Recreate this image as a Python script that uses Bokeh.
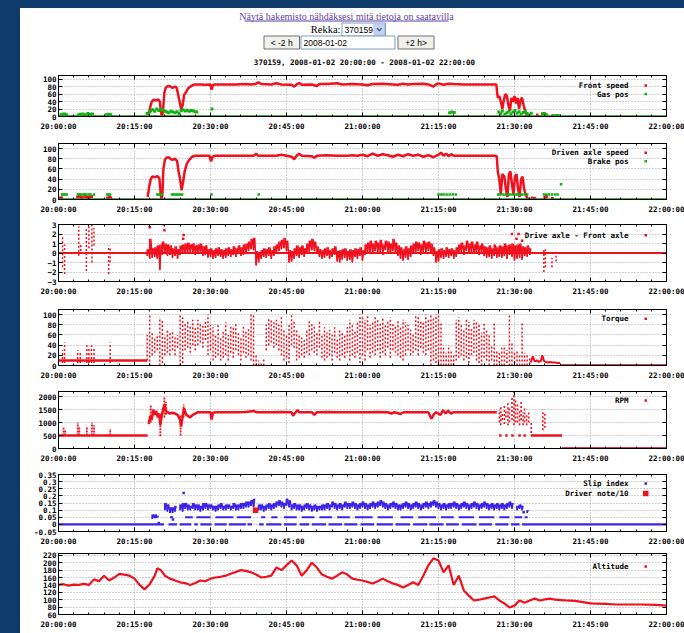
import numpy as np
from bokeh.plotting import figure
from bokeh.layouts import column
from bokeh.models import Range1d, FixedTicker, LinearAxis, Grid
from bokeh.core.properties import value
from bokeh.embed import file_html
from bokeh.resources import INLINE

# ---------------------------------------------------------------------------
# Log of truck 370159, 2008-01-02 20:00-22:00.  Time is minutes after 20:00.
# ---------------------------------------------------------------------------
TIME_TICKS = [0, 15, 30, 45, 60, 75, 90, 105, 120]
TIME_LABELS = ["20:00:00", "20:15:00", "20:30:00", "20:45:00", "21:00:00",
               "21:15:00", "21:30:00", "21:45:00", "22:00:00"]
TIME_MINOR = [m for m in range(0, 121, 3) if m % 15]

# sampling instants of the dense half-minute summaries (17:30 .. 93:00)
band_t = 17.5 + 0.5 * np.arange(152)

# --- speeds (km/h) ----------------------------------------------------------
front_speed = [
    (17.8, 5), (18.1, 25), (18.4, 40), (18.8, 45), (19.3, 43), (19.7, 46), (20.0, 40),
    (20.2, 15), (20.4, 0), (20.6, 10), (20.9, 65), (21.2, 78), (21.6, 82), (22.0, 81),
    (22.5, 77), (23.0, 80), (23.3, 78), (23.6, 60), (23.9, 40), (24.2, 20), (24.5, 30),
    (24.8, 58), (25.2, 66), (25.6, 76), (26.1, 81), (26.6, 85), (27.2, 86), (28, 86),
    (29, 85), (30, 86), (30.2, 72), (30.5, 85), (31, 86), (33, 86), (35, 86), (37, 87),
    (38, 86), (39, 88), (39.5, 92), (40, 87), (42, 86), (43, 89), (44, 86), (46, 85),
    (46.5, 80), (47, 86), (47.5, 90), (48, 85), (50, 86), (51, 82), (51.5, 87), (53, 87),
    (55, 89), (56, 86), (58, 87), (60, 86), (61, 84), (62, 87), (64, 88), (66, 86),
    (67, 85), (68, 88), (69, 86), (70, 87), (72, 88), (73, 86), (74, 80), (74.5, 86),
    (75, 89), (76, 85), (77, 88), (78, 87), (80, 86), (82, 86), (84, 86), (86.4, 86),
    (86.7, 50), (87.0, 55), (87.3, 40), (87.6, 20), (87.9, 45), (88.2, 60), (88.5, 55),
    (88.8, 30), (89.1, 15), (89.4, 50), (89.7, 40), (90.0, 55), (90.3, 35), (90.6, 50),
    (90.9, 20), (91.2, 45), (91.5, 50), (91.8, 30), (92.1, 15), (92.4, 5), (92.7, 2),
    (93.0, 0),
]
front_dots = [(94.5, 5), (95.5, 8), (96.0, 6), (97.5, 3), (98.5, 2)]

driven_speed = [
    (17.6, 5), (17.9, 25), (18.2, 40), (18.5, 45), (19.0, 44), (19.5, 46), (19.9, 42),
    (20.1, 20), (20.3, 0), (20.5, 10), (20.7, 60), (21.0, 78), (21.3, 82), (21.7, 83),
    (22.1, 80), (22.5, 78), (23.0, 80), (23.4, 76), (23.7, 55), (24.0, 40), (24.3, 18),
    (24.6, 35), (24.9, 55), (25.3, 70), (25.8, 78), (26.4, 84), (27.0, 86), (28, 86),
    (29, 86), (29.8, 86), (30.1, 75), (30.4, 84), (31, 86), (33, 86), (35, 86), (37, 86),
    (38.5, 86), (39.0, 90), (39.4, 86), (41, 86), (43, 86), (44, 88), (45, 86), (46, 84),
    (46.5, 79), (47, 86), (47.5, 90), (48, 86), (50, 85), (50.5, 82), (51, 86), (53, 87),
    (55, 86), (57, 86), (58, 87), (59, 86), (60, 88), (61, 85), (62, 90), (63, 86),
    (64, 89), (65, 87), (66, 84), (67, 88), (68, 85), (69, 89), (70, 86), (71, 88),
    (72, 84), (73, 87), (74, 83), (75, 88), (75.5, 92), (76, 86), (76.5, 90), (77, 85),
    (77.5, 89), (78, 86), (80, 86), (82, 86), (84, 86), (86, 86), (86.5, 85), (86.7, 55),
    (87.0, 40), (87.3, 10), (87.6, 50), (88.0, 45), (88.3, 20), (88.6, 5), (88.9, 50),
    (89.2, 55), (89.5, 30), (89.8, 10), (90.1, 45), (90.4, 50), (90.7, 20), (91.0, 5),
    (91.3, 40), (91.6, 45), (91.9, 20), (92.2, 10), (92.5, 3), (93.0, 0),
]
driven_dots = [(0.4, 3), (0.6, 3), (3.8, 5), (4.2, 6), (4.6, 4), (5.2, 6), (5.6, 5),
               (6.0, 4), (6.5, 6), (9.7, 3), (10.1, 4), (10.3, 3), (93.5, 3), (94.0, 2),
               (96.0, 4), (96.3, 6), (97.5, 2)]

# --- pedals (%) -----------------------------------------------------------------
gas_rest = [(0, 0), (120, 0)]
gas_pos = [
    (0.5, 5), (0.8, 6), (1.2, 7), (1.6, 5), (3.9, 4), (4.3, 6), (4.8, 7), (5.3, 5),
    (5.8, 8), (6.2, 6), (6.7, 7), (9.4, 5), (9.9, 6), (10.3, 5),
    (17.5, 8), (17.9, 12), (18.2, 15), (18.6, 18), (19.0, 14), (19.4, 20), (19.8, 16),
    (20.2, 19), (20.6, 18), (21.0, 14), (21.4, 12), (21.8, 10), (22.2, 14), (22.6, 12),
    (23.0, 10), (23.4, 13), (23.8, 8), (24.2, 16), (24.6, 18), (25.0, 15), (25.4, 17),
    (25.8, 14), (26.2, 16), (26.6, 15), (27.0, 13), (27.3, 12), (30.3, 20),
    (77.2, 10), (77.6, 12), (78.1, 11), (86.9, 12), (87.2, 8), (87.6, 15), (88.1, 6),
    (88.5, 10), (88.9, 14), (89.3, 7), (89.7, 12), (90.1, 16), (90.5, 9), (90.9, 13),
    (91.3, 6), (91.7, 11), (92.1, 14), (92.5, 8), (92.9, 4), (93.3, 9), (95.6, 6),
    (95.9, 8), (96.3, 5), (97.8, 2), (98.3, 3), (98.8, 2),
]
brake_rest = [(0, 0), (120, 0)]
brake_pos = [
    (0.7, 10), (1.0, 10), (1.3, 10), (1.6, 10), (3.8, 10), (4.1, 10), (4.4, 10), (4.9, 10),
    (5.2, 10), (5.5, 10), (6.0, 10), (6.3, 10), (7.0, 10), (9.6, 10), (9.9, 10), (10.2, 10),
    (19.5, 10), (19.8, 10), (20.1, 10), (20.4, 10), (22.4, 10), (22.8, 10), (23.2, 10),
    (23.6, 10), (24.0, 10), (24.4, 10), (30.2, 10), (39.5, 10), (75.0, 10), (75.5, 10),
    (76.0, 10), (76.6, 10), (77.2, 10), (77.8, 10), (78.4, 10), (86.8, 10), (87.2, 10),
    (87.8, 10), (88.3, 10), (88.8, 10), (89.2, 10), (89.7, 10), (90.2, 10), (90.6, 10),
    (91.0, 10), (91.5, 10), (92.0, 10), (92.5, 10), (95.8, 10), (96.3, 10), (96.8, 10),
    (97.4, 10), (98.0, 10), (98.5, 10), (99.2, 30),
]

# --- drive axle minus front axle (km/h) -------------------------------------------
diff_rest = [(0, 0), (120, 0)]
diff_lo = [
    -0.3, -0.6, -0.5, -0.4, -0.6, -1.8, -0.2, 0.0, -0.3, -0.2,
    -0.5, -0.3, -0.6, -0.2, 0.0, -0.1, 0.0, 0.1, 0.0, -0.2,
    -0.1, 0.0, -0.3, -0.2, -0.5, -0.4, -0.6, -0.5, -0.3, -0.4,
    -0.6, -0.5, -0.3, -0.4, -0.2, -0.4, -0.1, -0.3, -0.2, 0.0,
    0.2, 0.4, 0.3, -1.3, -1.0, -0.6, -0.4, -0.5, -0.3, -0.6,
    -0.3, 0.0, 0.2, 0.4, 0.5, 0.2, -1.0, -0.9, -0.6, -0.3,
    -0.5, -0.2, -0.4, 0.0, 0.1, 0.3, 0.2, -0.1, -0.4, -0.6,
    -0.5, -0.3, -0.6, -0.4, -0.2, -0.9, -1.0, -0.7, -0.5, -0.8,
    -0.7, -1.0, -0.4, -0.6, -0.3, -0.8, -0.2, 0.0, 0.1, -0.1,
    0.2, 0.0, 0.1, -0.2, 0.3, 0.1, -0.1, 0.2, 0.0, -0.3,
    -0.6, -0.8, -0.5, -0.7, -0.4, -0.1, 0.0, 0.2, -0.2, 0.1,
    0.0, 0.2, -0.1, -0.3, -1.0, -0.9, -0.5, -0.6, -0.4, -0.5,
    -0.3, -0.6, -0.4, 0.0, 0.1, -0.2, 0.2, 0.0, 0.1, -0.1,
    0.0, -0.2, 0.1, -0.3, -0.5, -0.4, -0.6, -0.3, -0.5, -0.4,
    -0.5, -0.3, -0.6, -0.2, -0.4, -0.8, -0.6, -0.5, -0.7, -0.3,
    -0.4, -0.2,
]
diff_hi = [
    0.4, 1.5, 0.5, 0.6, 0.8, 0.9, 1.2, 1.0, 0.9, 0.8,
    0.5, 0.7, 0.4, 0.8, 0.9, 1.0, 1.1, 0.9, 1.0, 0.8,
    0.9, 1.0, 0.7, 0.8, 0.4, 0.5, 0.3, 0.5, 0.6, 0.4,
    0.3, 0.5, 0.6, 0.4, 0.7, 0.5, 0.8, 0.6, 0.9, 1.0,
    1.2, 1.5, 1.6, 0.2, 0.1, 0.3, 0.5, 0.4, 0.6, 0.3,
    0.7, 0.9, 1.2, 1.4, 1.6, 1.3, 0.3, 0.2, 0.5, 0.8,
    0.6, 0.8, 0.5, 1.0, 1.3, 1.5, 1.2, 0.7, 0.4, 0.3,
    0.5, 0.6, 0.3, 0.5, 0.7, 0.2, 0.3, 0.4, 0.5, 0.2,
    0.4, 0.3, 0.5, 0.4, 0.6, 0.3, 0.9, 1.1, 1.3, 1.0,
    1.3, 1.1, 1.4, 0.9, 1.3, 1.2, 1.0, 1.5, 1.1, 0.8,
    0.6, 0.4, 0.7, 0.5, 0.8, 1.0, 1.2, 1.1, 0.9, 1.3,
    1.1, 1.2, 1.0, 0.6, 0.2, 0.4, 0.5, 0.3, 0.6, 0.4,
    0.5, 0.3, 0.6, 0.9, 1.1, 0.8, 1.3, 1.0, 1.2, 0.9,
    1.2, 0.8, 1.0, 0.7, 0.6, 0.8, 0.5, 0.9, 0.6, 0.8,
    0.7, 1.0, 0.8, 0.9, 1.0, 0.8, 0.9, 1.0, 0.7, 0.6,
    0.8, 0.5,
]
diff_dots = [(18.0, 2.7), (20.8, 3.0), (20.9, 2.4), (24.6, 1.5), (24.7, 1.9), (89.5, 2.0),
             (89.8, 3.3), (90.4, 1.5), (90.8, 2.0), (91.5, 1.3)]
diff_streaks = [  # (time, low, high) while manoeuvring in the yard
    (0.8, -1.5, 1.8), (1.2, -2.2, 0.9), (4.0, -0.3, 2.8), (4.4, 0.2, 1.0),
    (5.5, -1.9, 2.5), (6.0, 0.5, 2.9), (6.6, -1.0, 3.0), (7.0, 0.8, 2.6),
    (9.9, -2.2, 0.8), (10.2, -1.0, 0.5), (95.8, -2.0, 0.5), (96.1, -1.5, 0.4),
    (97.4, -1.5, -0.5), (98.2, -0.9, -0.3),
]

# --- torque (%) -----------------------------------------------------------------
torque_idle = [(0, 10), (17.5, 10)]
torque_parked = [(99.2, 0), (120, 0)]
torque_lo = [
    10, 0, 20, 25, 30, 0, 5, 20, 25, 20,
    30, 20, 35, 0, 5, 30, 35, 25, 40, 30,
    40, 45, 35, 50, 20, 30, 10, 15, 20, 10,
    15, 20, 10, 25, 15, 30, 20, 10, 25, 15,
    20, 10, 0, 0, 0, 0, 0, 30, 40, 45,
    35, 40, 30, 20, 10, 15, 5, 40, 35, 10,
    15, 20, 15, 25, 20, 30, 25, 20, 35, 15,
    10, 15, 20, 10, 25, 15, 10, 20, 15, 25,
    10, 20, 15, 25, 5, 20, 10, 30, 15, 25,
    20, 30, 15, 25, 20, 35, 15, 30, 25, 20,
    15, 10, 20, 30, 20, 25, 30, 20, 35, 25,
    20, 30, 0, 10, 5, 0, 0, 0, 0, 0,
    0, 0, 10, 15, 20, 10, 15, 5, 20, 25,
    10, 5, 0, 15, 10, 0, 10, 0, 0, 5,
    0, 0, 5, 0, 0, 5, 0, 0, 0, 0,
    0, 2,
]
torque_hi = [
    60, 100, 65, 55, 60, 95, 90, 60, 70, 65,
    70, 55, 60, 100, 95, 85, 90, 80, 90, 75,
    90, 85, 80, 90, 100, 80, 75, 60, 80, 55,
    70, 85, 60, 80, 75, 85, 65, 55, 80, 70,
    75, 100, 100, 20, 10, 5, 15, 80, 95, 90,
    85, 90, 80, 95, 70, 60, 80, 100, 90, 70,
    60, 55, 50, 70, 90, 85, 80, 65, 90, 60,
    75, 65, 70, 60, 75, 55, 70, 65, 60, 75,
    90, 80, 70, 85, 100, 95, 90, 100, 80, 85,
    95, 90, 85, 95, 80, 90, 95, 85, 80, 90,
    75, 90, 85, 80, 70, 60, 100, 95, 90, 85,
    100, 90, 100, 95, 100, 100, 85, 35, 25, 40,
    30, 20, 90, 95, 80, 70, 90, 85, 75, 90,
    85, 80, 65, 85, 70, 60, 40, 85, 30, 25,
    35, 40, 30, 100, 45, 25, 30, 20, 85, 25,
    20, 15,
]
torque_spikes = [(0.8, 5, 30), (1.2, 5, 45), (3.8, 5, 30), (4.3, 5, 25), (5.6, 5, 40),
                 (6.0, 5, 35), (6.5, 5, 40), (7.0, 5, 35), (10.2, 5, 45)]
torque_tail = [(93.2, 6), (93.6, 18), (94.0, 8), (94.4, 10), (94.8, 7), (95.2, 9),
               (95.5, 20), (95.8, 9), (96.2, 7), (96.6, 6), (97.0, 7), (97.5, 6),
               (98.0, 6), (98.5, 5), (99.0, 5)]

# --- engine speed (rpm) -------------------------------------------------------------
rpm_idle = [(0, 500), (17.6, 500)]
rpm_spikes = [(1.0, 500, 800), (1.3, 500, 700), (3.8, 500, 1000), (4.1, 500, 850),
              (5.6, 500, 850), (6.6, 500, 1000), (7.0, 500, 900), (10.2, 500, 750),
              (18.2, 1000, 1700), (20.1, 470, 1300), (20.9, 1200, 2000), (21.2, 1300, 1800),
              (24.1, 500, 1300), (24.7, 1200, 1700)]
rpm_drive = [
    (17.8, 950), (18.1, 1250), (18.4, 1100), (18.7, 1500), (19.0, 1300), (19.3, 1450),
    (19.6, 1200), (19.9, 1350), (20.1, 900), (20.4, 1300), (20.7, 1550), (20.9, 1700),
    (21.2, 1450), (21.5, 1400), (22.0, 1350), (22.5, 1380), (23.0, 1350), (23.5, 1300),
    (24.0, 1100), (24.2, 850), (24.5, 1250), (24.8, 1550), (25.2, 1300), (25.6, 1250),
    (26.0, 1200), (26.5, 1300), (27.0, 1350), (27.5, 1400), (28, 1400), (29, 1400),
    (30, 1400), (30.2, 1120), (30.5, 1380), (31, 1400), (33, 1400), (35, 1400),
    (37, 1410), (38.5, 1450), (39, 1400), (40, 1400), (42, 1400), (44, 1410), (46, 1400),
    (46.3, 1260), (46.6, 1350), (47.2, 1480), (47.5, 1400), (48, 1400), (50, 1400),
    (50.5, 1300), (51, 1400), (53, 1410), (55, 1400), (57, 1400), (59, 1400), (61, 1400),
    (63, 1410), (65, 1400), (65.7, 1350), (66.3, 1400), (67.5, 1330), (68.1, 1400),
    (69, 1400), (71, 1400), (73, 1400), (73.6, 1150), (74, 1300), (74.5, 1400),
    (75.4, 1300), (75.9, 1480), (76.4, 1350), (76.9, 1460), (77.4, 1350), (78, 1400),
    (80, 1400), (82, 1400), (84, 1400), (86.5, 1400),
]
rpm_burst = [(87.0, 1000, 1500), (87.3, 900, 1600), (87.6, 1100, 1400), (88.0, 950, 1700),
             (88.3, 1200, 1500), (88.7, 900, 1800), (89.0, 1000, 1600), (89.5, 1100, 2000),
             (89.9, 900, 2200), (90.2, 1000, 1900), (90.6, 1000, 1700), (91.0, 900, 1500),
             (91.3, 1100, 1800), (91.7, 900, 1400), (92.0, 1000, 1600), (92.4, 900, 1300),
             (92.8, 1000, 1450), (93.3, 600, 1000), (95.6, 700, 1500), (96.0, 800, 1400)]
rpm_idle_dots = [(87.2, 500), (88.4, 500), (89.6, 500), (91.0, 500), (92.0, 500)]
rpm_low = [(93.2, 500), (99.4, 500)]
rpm_parked = [(99.3, 0), (120, 0)]

# --- slip index --------------------------------------------------------------------------
slip_runs = [  # (start, end, value) of flat stretches
    (0, 20.8, 0), (21.7, 23.4, 0), (23.9, 26.2, 0), (26.8, 27.5, 0), (28.0, 30.2, 0),
    (30.8, 33.2, 0), (33.6, 37.0, 0), (37.3, 38.2, 0), (39.6, 40.5, 0), (41.0, 44.0, 0),
    (44.5, 47.0, 0), (47.6, 49.5, 0), (50.0, 52.8, 0), (53.3, 56.0, 0), (56.4, 59.0, 0),
    (59.6, 62.3, 0), (62.8, 66.0, 0), (66.5, 69.4, 0), (70.0, 72.8, 0), (73.2, 76.0, 0),
    (76.5, 79.0, 0), (79.6, 82.5, 0), (83.0, 85.6, 0), (86.2, 88.8, 0), (89.3, 91.0, 0),
    (91.5, 120, 0),
    (18.5, 19.5, 0.05), (22.0, 22.6, 0.05), (25.0, 26.5, 0.05), (27.2, 30.0, 0.05),
    (31.0, 34.5, 0.05), (35.2, 38.0, 0.05), (40.0, 40.8, 0.05), (42.0, 43.2, 0.05),
    (44.5, 47.0, 0.05), (48.0, 50.5, 0.05), (51.5, 54.0, 0.05), (55.0, 57.5, 0.05),
    (58.5, 62.0, 0.05), (63.0, 66.0, 0.05), (67.5, 70.0, 0.05), (71.0, 74.5, 0.05),
    (75.5, 78.0, 0.05), (79.0, 82.0, 0.05), (83.0, 86.0, 0.05), (87.0, 89.0, 0.05),
    (90.0, 91.5, 0.05), (92.0, 92.6, 0.05),
]
slip_lo = [
    None, None, 0.04, 0.05, 0.05, None, None, 0.10, 0.09, 0.08,
    0.08, 0.09, None, 0.10, 0.09, 0.11, 0.10, 0.10, 0.11, 0.10,
    0.10, 0.09, 0.10, 0.11, 0.10, 0.11, 0.10, 0.09, 0.10, 0.11,
    0.10, 0.10, 0.11, 0.10, 0.11, 0.10, 0.10, 0.11, 0.11, 0.12,
    0.12, 0.13, 0.12, None, 0.10, 0.10, 0.09, 0.10, 0.11, 0.10,
    0.11, 0.12, 0.13, 0.12, 0.11, 0.13, 0.12, 0.10, 0.11, 0.10,
    0.10, 0.09, 0.10, 0.11, 0.10, 0.09, 0.10, 0.09, 0.10, 0.10,
    0.10, 0.11, 0.10, 0.12, 0.11, 0.10, 0.11, 0.10, 0.12, 0.11,
    0.11, 0.12, 0.11, 0.10, 0.11, 0.12, 0.11, 0.10, 0.11, 0.12,
    0.11, 0.12, 0.13, 0.12, 0.11, 0.10, 0.11, 0.12, 0.11, 0.10,
    0.10, 0.11, 0.12, 0.11, 0.10, 0.11, 0.12, 0.11, 0.10, 0.11,
    0.12, 0.11, 0.12, 0.13, 0.12, 0.11, 0.10, 0.11, 0.10, 0.11,
    0.11, 0.12, 0.11, 0.10, 0.11, 0.12, 0.11, 0.10, 0.11, 0.12,
    0.11, 0.10, 0.11, 0.12, 0.11, 0.10, 0.11, 0.10, 0.11, 0.10,
    0.11, 0.10, 0.11, 0.12, 0.11, None, 0.10, 0.11, 0.10, None,
    0.08, None,
]
slip_hi = [
    None, None, 0.07, 0.07, 0.06, None, None, 0.15, 0.14, 0.12,
    0.12, 0.13, None, 0.14, 0.15, 0.15, 0.14, 0.13, 0.15, 0.14,
    0.14, 0.13, 0.15, 0.15, 0.14, 0.14, 0.13, 0.13, 0.14, 0.15,
    0.13, 0.14, 0.14, 0.13, 0.15, 0.14, 0.14, 0.15, 0.15, 0.16,
    0.16, 0.17, 0.18, None, 0.14, 0.14, 0.13, 0.14, 0.15, 0.14,
    0.15, 0.16, 0.17, 0.16, 0.15, 0.18, 0.17, 0.14, 0.15, 0.14,
    0.14, 0.13, 0.14, 0.15, 0.14, 0.13, 0.14, 0.13, 0.13, 0.14,
    0.14, 0.15, 0.14, 0.16, 0.15, 0.14, 0.15, 0.14, 0.16, 0.15,
    0.15, 0.16, 0.15, 0.14, 0.15, 0.16, 0.15, 0.14, 0.15, 0.16,
    0.15, 0.16, 0.17, 0.16, 0.15, 0.14, 0.15, 0.16, 0.15, 0.14,
    0.14, 0.15, 0.16, 0.15, 0.14, 0.15, 0.16, 0.15, 0.14, 0.15,
    0.16, 0.15, 0.16, 0.17, 0.16, 0.15, 0.14, 0.15, 0.14, 0.15,
    0.15, 0.16, 0.15, 0.14, 0.15, 0.16, 0.15, 0.14, 0.15, 0.16,
    0.15, 0.14, 0.15, 0.16, 0.15, 0.14, 0.15, 0.14, 0.15, 0.14,
    0.15, 0.14, 0.15, 0.16, 0.15, None, 0.13, 0.14, 0.13, None,
    0.10, None,
]
slip_dots = [(24.7, 0.22), (19.8, 0.01), (22.6, 0.035), (91.8, 0.085)]
driver_note = [(38.9, 0.1)]

# --- altitude (m) -------------------------------------------------------------------------
altitude = [
    (0, 140), (1, 142), (2, 138), (3, 141), (4, 140), (5, 143), (6, 140), (7, 155),
    (8, 150), (9, 165), (10, 152), (11, 160), (12, 170), (13, 168), (14, 165), (15, 157),
    (16, 140), (17, 128), (17.5, 135), (18, 142), (19, 165), (19.5, 185), (20.2, 180),
    (21, 165), (22, 157), (23, 152), (24, 147), (25, 145), (26, 140), (27, 145), (28, 152),
    (29, 150), (30, 157), (31, 160), (32, 162), (33, 165), (34, 170), (35, 175), (36, 180),
    (37, 178), (38, 174), (39, 168), (40, 160), (41, 162), (42, 165), (43, 187), (44, 180),
    (45, 193), (46, 206), (47, 193), (48, 165), (49, 180), (50, 200), (51, 187), (52, 168),
    (53, 162), (54, 157), (55, 165), (56, 174), (57, 168), (58, 157), (59, 154), (60, 152),
    (61, 148), (62, 144), (63, 150), (64, 157), (65, 150), (66, 144), (67, 140), (68, 133),
    (69, 140), (70, 147), (71, 140), (72, 165), (73, 193), (74, 212), (75, 206), (76, 174),
    (77, 193), (78, 140), (79, 165), (80, 125), (81, 111), (82, 98), (83, 100), (84, 103),
    (85, 106), (86, 109), (87, 98), (88, 90), (89, 79), (90, 84), (91, 98), (92, 92),
    (93, 98), (94, 103), (95, 98), (96, 101), (97, 103), (98, 100), (100, 98), (102, 97),
    (105, 90), (108, 89), (110, 87), (115, 87), (118, 86), (120, 84),
]

# ---------------------------------------------------------------------------
# styling
# ---------------------------------------------------------------------------
NAVY = "#0f3b6b"
RED = "#f0101e"
DARK_RED = "#b0001c"
GREEN = "#12b012"
DARK_GREEN = "#1a861a"
BLUE = "#3b22e8"
GRID = "#a0a0a0"
MONO = "DejaVu Sans Mono"
LEG_TEXT_X = 112.5
LEG_MARK_X = 115.9
BORDER_L, BORDER_R, PAGE_PAD = 38, 18, 20
WHITE_BOX = {"background-color": "white"}


def cols(seq):
    return [r[0] for r in seq], [r[1] for r in seq]


def style_axis(ax, labelled, standoff):
    ax.axis_line_color = "black"
    ax.major_tick_line_color = "black"
    ax.minor_tick_line_color = "black"
    ax.major_tick_in = 4
    ax.major_tick_out = 0
    ax.minor_tick_in = 2
    ax.minor_tick_out = 0
    ax.major_label_text_font = MONO
    ax.major_label_text_font_style = "bold"
    if labelled:
        ax.major_label_text_color = "black"
        ax.major_label_text_font_size = "7.5px"
        ax.major_label_standoff = standoff
    else:
        # mirrored tick marks only
        ax.major_label_text_color = None
        ax.major_label_text_font_size = "1px"
        ax.major_label_standoff = 0


def make_panel(y_lo, y_hi, y_ticks, top, frame_h, bottom, y_labels=None):
    p = figure(width=684 - PAGE_PAD, height=top + frame_h + bottom,
               x_range=Range1d(0, 120), y_range=Range1d(y_lo, y_hi),
               x_axis_type=None, y_axis_type=None,
               output_backend="svg", toolbar_location=None,
               min_border_left=BORDER_L, min_border_right=BORDER_R,
               min_border_top=top, min_border_bottom=bottom,
               margin=(0, 0, 0, PAGE_PAD), styles=WHITE_BOX)
    p.outline_line_color = "black"
    p.background_fill_color = "white"
    p.border_fill_color = "white"
    xt = FixedTicker(ticks=TIME_TICKS, minor_ticks=TIME_MINOR)
    yt = FixedTicker(ticks=y_ticks, minor_ticks=[])
    p.add_layout(Grid(dimension=0, ticker=xt, grid_line_color=GRID, grid_line_dash="1 2"))
    p.add_layout(Grid(dimension=1, ticker=yt, grid_line_color=GRID, grid_line_dash="1 2"))
    for side in ("below", "above"):
        ax = LinearAxis(ticker=xt)
        style_axis(ax, side == "below", 5)
        if side == "below":
            ax.major_label_overrides = dict(zip(TIME_TICKS, TIME_LABELS))
        p.add_layout(ax, side)
    for side in ("left", "right"):
        ax = LinearAxis(ticker=yt)
        style_axis(ax, side == "left", 2)
        if side == "left" and y_labels:
            ax.major_label_overrides = y_labels
        p.add_layout(ax, side)
    p.y_range.tags = [frame_h]
    return p


def legend(p, rows):
    y_lo, y_hi = p.y_range.start, p.y_range.end
    frame_h = p.y_range.tags[0]
    for label, color, size, dy in rows:
        y = y_hi - dy / frame_h * (y_hi - y_lo)
        p.text(x=[LEG_TEXT_X], y=[y], text=[label], text_font=value(MONO),
               text_font_style="bold", text_font_size="7.5px", text_color="black",
               text_align="right", text_baseline="middle")
        p.scatter(x=[LEG_MARK_X], y=[y], marker="square", size=size,
                  fill_color=color, line_color=None)


def segments(p, t, lo, hi, **kw):
    keep = [i for i in range(len(t)) if lo[i] is not None and hi[i] is not None]
    p.segment(x0=[t[i] for i in keep], x1=[t[i] for i in keep],
              y0=[lo[i] for i in keep], y1=[hi[i] for i in keep], **kw)


def zigzag(t, lo, hi):
    """Alternate low/high readings of each half-minute so the band reads as noise."""
    xs, ys = [], []
    for i in range(len(t)):
        if lo[i] is None:
            xs.append(np.nan)
            ys.append(np.nan)
            continue
        xs += [t[i], t[i] + 0.25]
        ys += [lo[i], hi[i]]
    return xs, ys


assert len(diff_lo) == len(diff_hi) == len(band_t)
assert len(torque_lo) == len(torque_hi) == len(band_t)
assert len(slip_lo) == len(slip_hi) == len(band_t)
bt = list(band_t)

# ---------------------------------------------------------------------------
# page header (form controls and title); x/y in page pixels
# ---------------------------------------------------------------------------
HDR_TOP, HDR_BOTTOM = 8, 68
hdr = figure(width=684 - PAGE_PAD, height=HDR_BOTTOM - HDR_TOP,
             x_range=Range1d(PAGE_PAD + BORDER_L, 684 - BORDER_R),
             y_range=Range1d(HDR_BOTTOM, HDR_TOP),
             x_axis_type=None, y_axis_type=None, output_backend="svg",
             toolbar_location=None, min_border_left=BORDER_L, min_border_right=BORDER_R,
             min_border_top=0, min_border_bottom=0, margin=(HDR_TOP, 0, 0, PAGE_PAD),
             styles=WHITE_BOX)
hdr.outline_line_color = None
hdr.background_fill_color = "white"
hdr.border_fill_color = "white"
LINK = "#5f3fa8"
hdr.text(x=[346], y=[16], text=["Näytä hakemisto nähdäksesi mitä tietoja on saatavilla"],
         text_font=value("Liberation Serif"), text_font_size="10px", text_color=LINK,
         text_align="center", text_baseline="middle")
hdr.segment(x0=[244], x1=[448], y0=[20.5], y1=[20.5], line_color=LINK, line_width=1)
hdr.text(x=[340], y=[29], text=["Rekka:"], text_font=value("Liberation Serif"),
         text_font_size="10.5px", text_color="black", text_align="right",
         text_baseline="middle")
# select box
hdr.quad(left=[341.5], right=[385], top=[22.5], bottom=[35.5], fill_color="white",
         line_color="#7f9db9")
hdr.quad(left=[373.5], right=[384], top=[23.5], bottom=[34.5], fill_color="#c4d4f8",
         line_color="#b0c4f2")
hdr.line(x=[376.5, 378.8, 381.1], y=[27.6, 30.2, 27.6], line_color="#4d6185", line_width=1.5)
hdr.text(x=[344], y=[29.2], text=["370159"], text_font=value("Liberation Sans"),
         text_font_size="8.5px", text_color="black", text_align="left",
         text_baseline="middle")
# buttons and date box
hdr.quad(left=[263.5, 397.5], right=[299, 433.5], top=[35.5, 35.5], bottom=[48.5, 48.5],
         fill_color="#f1f1ec", line_color="#707070")
hdr.quad(left=[300.5], right=[394.5], top=[35.5], bottom=[48.5], fill_color="white",
         line_color="#7f9db9")
hdr.text(x=[281.2, 415.5], y=[42.2, 42.2], text=["< -2 h", "+2 h>"],
         text_font=value("Liberation Sans"), text_font_size="8.5px", text_color="black",
         text_align="center", text_baseline="middle")
hdr.text(x=[303], y=[42.2], text=["2008-01-02"], text_font=value("Liberation Sans"),
         text_font_size="8.5px", text_color="black", text_align="left",
         text_baseline="middle")
hdr.text(x=[364], y=[62.3], text=["370159, 2008-01-02 20:00:00 - 2008-01-02 22:00:00"],
         text_font=value(MONO), text_font_style="bold", text_font_size="7.5px",
         text_color="black", text_align="center", text_baseline="middle")

# ---------------------------------------------------------------------------
# panels
# ---------------------------------------------------------------------------
pct_ticks = [0, 20, 40, 60, 80, 100]

# 1: front speed & gas pedal
p1 = make_panel(0, 110, pct_ticks, 7, 41, 18)
x, y = cols(front_speed)
p1.line(x, y, line_color=RED, line_width=2.5)
x, y = cols(front_dots)
p1.scatter(x, y, marker="square", size=2.5, fill_color=RED, line_color=None)
x, y = cols(gas_rest)
p1.line(x, y, line_color=DARK_GREEN, line_width=2.5)
x, y = cols(gas_pos)
p1.scatter(x, y, marker="square", size=3, fill_color=GREEN, line_color=None)
legend(p1, [("Front speed", RED, 2.5, 10), ("Gas pos", GREEN, 2.5, 18.5)])

# 2: driven axle speed & brake pedal
p2 = make_panel(0, 110, pct_ticks, 9, 56, 19)
x, y = cols(driven_speed)
p2.line(x, y, line_color=RED, line_width=2.5)
x, y = cols(driven_dots)
p2.scatter(x, y, marker="square", size=3, fill_color=RED, line_color=None)
x, y = cols(brake_rest)
p2.line(x, y, line_color=DARK_GREEN, line_width=2.5)
x, y = cols(brake_pos)
p2.scatter(x, y, marker="square", size=2.5, fill_color=GREEN, line_color=None)
legend(p2, [("Driven axle speed", RED, 2.5, 9.3), ("Brake pos", GREEN, 2.5, 17.7)])

# 3: wheel speed difference
p3 = make_panel(-3, 3, [-3, -2, -1, 0, 1, 2, 3], 6, 58, 16)
x, y = cols(diff_rest)
p3.line(x, y, line_color=RED, line_width=2)
segments(p3, bt, diff_lo, diff_hi, line_color=RED, line_width=1.5)
x, y = zigzag(bt, diff_lo, diff_hi)
p3.line(x, y, line_color=RED, line_width=1.3)
segments(p3, [s[0] for s in diff_streaks], [s[1] for s in diff_streaks],
         [s[2] for s in diff_streaks], line_color=RED, line_width=1.5, line_dash="2 2")
x, y = cols(diff_dots)
p3.scatter(x, y, marker="square", size=2.5, fill_color=RED, line_color=None)
legend(p3, [("Drive axle - Front axle", RED, 2.5, 11)])

# 4: torque
p4 = make_panel(0, 110, pct_ticks, 11, 56, 18)
x, y = cols(torque_idle)
p4.line(x, y, line_color=RED, line_width=2.5)
segments(p4, bt, torque_lo, torque_hi, line_color=RED, line_width=1.5, line_dash="2 2")
segments(p4, [s[0] for s in torque_spikes], [s[1] for s in torque_spikes],
         [s[2] for s in torque_spikes], line_color=RED, line_width=1.5, line_dash="2 2")
x, y = cols(torque_tail)
p4.line(x, y, line_color=RED, line_width=2)
x, y = cols(torque_parked)
p4.line(x, y, line_color=DARK_RED, line_width=2.5)
legend(p4, [("Torque", RED, 2.5, 9.3)])

# 5: engine speed
p5 = make_panel(0, 2200, [0, 500, 1000, 1500, 2000], 8, 57, 17)
x, y = cols(rpm_idle)
p5.line(x, y, line_color=RED, line_width=2.5)
segments(p5, [s[0] for s in rpm_spikes], [s[1] for s in rpm_spikes],
         [s[2] for s in rpm_spikes], line_color=RED, line_width=1.8, line_dash="2 1")
x, y = cols(rpm_drive)
p5.line(x, y, line_color=RED, line_width=2.5)
segments(p5, [s[0] for s in rpm_burst], [s[1] for s in rpm_burst],
         [s[2] for s in rpm_burst], line_color=RED, line_width=1.6, line_dash="2 2")
x, y = cols(rpm_idle_dots)
p5.scatter(x, y, marker="square", size=2.5, fill_color=RED, line_color=None)
x, y = cols(rpm_low)
p5.line(x, y, line_color=RED, line_width=2.5)
x, y = cols(rpm_parked)
p5.line(x, y, line_color=DARK_RED, line_width=2.5)
legend(p5, [("RPM", RED, 2.5, 9)])

# 6: slip index & driver notes
slip_ticks = [-0.05, 0, 0.05, 0.1, 0.15, 0.2, 0.25, 0.3, 0.35]
slip_labels = {-0.05: "-0.05", 0: "0", 0.05: "0.05", 0.1: "0.1", 0.15: "0.15",
               0.2: "0.2", 0.25: "0.25", 0.3: "0.3", 0.35: "0.35"}
p6 = make_panel(-0.05, 0.35, slip_ticks, 9, 57, 17, slip_labels)
p6.segment(x0=[r[0] for r in slip_runs], x1=[r[1] for r in slip_runs],
           y0=[r[2] for r in slip_runs], y1=[r[2] for r in slip_runs],
           line_color=BLUE, line_width=2.2)
segments(p6, bt, slip_lo, slip_hi, line_color=BLUE, line_width=1.8)
x, y = zigzag(bt, slip_lo, slip_hi)
p6.line(x, y, line_color=BLUE, line_width=1.2)
x, y = cols(slip_dots)
p6.scatter(x, y, marker="square", size=2.5, fill_color=BLUE, line_color=None)
x, y = cols(driver_note)
p6.scatter(x, y, marker="square", size=5.5, fill_color=RED, line_color=None)
legend(p6, [("Slip index", BLUE, 2.5, 9), ("Driver note/10", RED, 5.5, 19)])

# 7: altitude
p7 = make_panel(60, 225, [60, 80, 100, 120, 140, 160, 180, 200, 220], 5, 61, 19)
x, y = cols(altitude)
p7.line(x, y, line_color=RED, line_width=2.2)
legend(p7, [("Altitude", RED, 2.5, 13)])

page = column(hdr, p1, p2, p3, p4, p5, p6, p7, spacing=0,
              styles={"background-color": NAVY})

open("out.html", "w").write(file_html(page, INLINE))
